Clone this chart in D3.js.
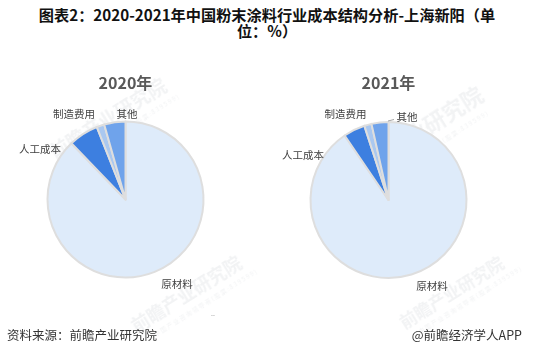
<!DOCTYPE html>
<html>
<head>
<meta charset="utf-8">
<script src="https://cdn.jsdelivr.net/npm/d3@7/dist/d3.min.js"></script>
<style>
  html, body { margin: 0; padding: 0; background: #fff; }
  svg { display: block; font-family: "Noto Sans CJK SC", "Noto Sans", sans-serif; }
</style>
</head>
<body>
<svg id="chart" width="534" height="355"></svg>
<script>
// Cost structure (%) of Shanghai Sinyang powder coatings business
const categories = ["原材料", "人工成本", "制造费用", "其他"];
const values2020 = [87.8, 6.2, 1.6, 4.4];
const values2021 = [90.5, 4.5, 1.5, 3.5];
const years = ["2020年", "2021年"];
const titleLines = ["图表2：2020-2021年中国粉末涂料行业成本结构分析-上海新阳（单", "位：%）"];
const sourceText = "资料来源：前瞻产业研究院";
const brandText = "@前瞻经济学人APP";

const colors = d3.scaleOrdinal()
  .domain(categories)
  .range(["#deebfa", "#3d7fe0", "#aac8f0", "#6fa3eb"]);

const svg = d3.select("#chart");

// faint brand watermarks
const marks = [
  { x: 112, y: 125, s: 19 }, { x: 190, y: 300, s: 18 },
  { x: 420, y: 140, s: 22 }, { x: 455, y: 298, s: 17 }
];
const wm = svg.append("g").attr("opacity", 0.13);
marks.forEach(m => {
  const g = wm.append("g").attr("transform", `translate(${m.x},${m.y}) rotate(-32)`);
  g.append("text").attr("text-anchor", "middle").attr("font-size", m.s)
    .attr("font-weight", "bold").attr("fill", "#9aa3ad").text("前瞻产业研究院");
  g.append("text").attr("text-anchor", "middle").attr("y", m.s * 0.7).attr("dx", 12)
    .attr("font-size", 6).attr("letter-spacing", 1.5).attr("fill", "#9aa3ad")
    .text("中国产业咨询领导者(股票:839599)");
});

// title, wrapped onto two lines
svg.append("text")
  .attr("text-anchor", "middle")
  .attr("font-size", 15.2).attr("font-weight", "bold").attr("fill", "#111")
  .selectAll("tspan").data(titleLines).join("tspan")
  .attr("x", 267).attr("y", (d, i) => 21 + i * 15.5)
  .text(d => d);

const pie = d3.pie().sort(null).value(d => d.value).startAngle(0).endAngle(2 * Math.PI);
const radius = 78;
const arc = d3.arc().innerRadius(0).outerRadius(radius);

const panels = [
  { cx: 125.5, cy: 199.5, values: values2020, year: years[0],
    labels: [[177, 288, "middle"], [40, 153, "middle"], [74, 118, "middle"], [127, 118, "middle"]],
    leader: null },
  { cx: 388.5, cy: 200, values: values2021, year: years[1],
    labels: [[432, 290, "middle"], [303, 159, "middle"], [345.5, 118, "middle"], [407, 121, "middle"]],
    leader: [[388, 121], [394, 119.5]] }
];

panels.forEach(p => {
  const data = categories.map((c, i) => ({ name: c, value: p.values[i] }));
  const g = svg.append("g").attr("transform", `translate(${p.cx},${p.cy})`);

  g.selectAll("path").data(pie(data)).join("path")
    .attr("d", arc)
    .attr("fill", d => colors(d.data.name))
    .attr("stroke", "#dedede")
    .attr("stroke-width", 2)
    .attr("stroke-linejoin", "round");

  svg.append("text")
    .attr("x", p.cx).attr("y", 89)
    .attr("text-anchor", "middle")
    .attr("font-size", 16).attr("font-weight", "bold").attr("fill", "#595959")
    .text(p.year);

  svg.append("g").selectAll("text").data(p.labels).join("text")
    .attr("x", d => d[0]).attr("y", d => d[1])
    .attr("text-anchor", d => d[2])
    .attr("font-size", 10.5).attr("fill", "#404040")
    .text((d, i) => categories[i]);

  if (p.leader) {
    svg.append("path")
      .attr("d", d3.line()(p.leader))
      .attr("fill", "none").attr("stroke", "#a6a6a6").attr("stroke-width", 1);
  }
});

// footer
svg.append("text").attr("x", 213).attr("y", 316).attr("text-anchor", "middle")
  .attr("font-size", 7).attr("fill", "#888").text("..");
svg.append("text").attr("x", 7).attr("y", 340)
  .attr("font-size", 12.5).attr("fill", "#333").text(sourceText);
svg.append("text").attr("x", 522).attr("y", 340).attr("text-anchor", "end")
  .attr("font-size", 12.5).attr("fill", "#333").text(brandText);
</script>
</body>
</html>
